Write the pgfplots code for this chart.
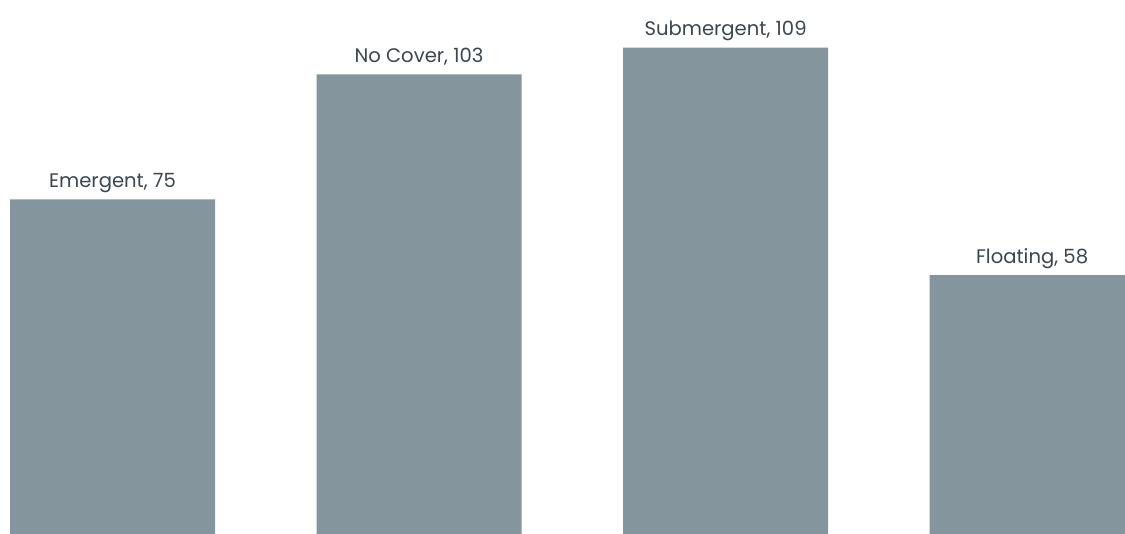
\documentclass[border=0pt]{standalone}
\usepackage{pgfplots}
\pgfplotsset{compat=1.18}
\usepackage{fontspec}
\setmainfont{Poppins}
\definecolor{barcol}{HTML}{85959D}
\definecolor{txtcol}{HTML}{3C464E}
\begin{document}
\begin{tikzpicture}
\begin{axis}[
  width=562.5pt, height=267pt, scale only axis,
  axis lines=none, ticks=none,
  xmin=-0.367, xmax=3.303,
  ymin=0, ymax=119.7,
  ybar, bar width=102.5pt,
  nodes near coords={\pgfplotspointmeta},
  point meta=explicit symbolic,
  every node near coord/.append style={font=\fontsize{9.8}{11}\selectfont, text=txtcol, anchor=base, inner sep=0pt, yshift=6pt},
]
\addplot[fill=barcol, draw=none] coordinates {
  (0,75) [Emergent, 75]
  (1,103) [No Cover, 103]
  (2,109) [Submergent, 109]
  (3,58) [Floating, 58]
};
\end{axis}
\pgfresetboundingbox
\useasboundingbox (current axis.south west) rectangle (current axis.north east);
\end{tikzpicture}
\end{document}
